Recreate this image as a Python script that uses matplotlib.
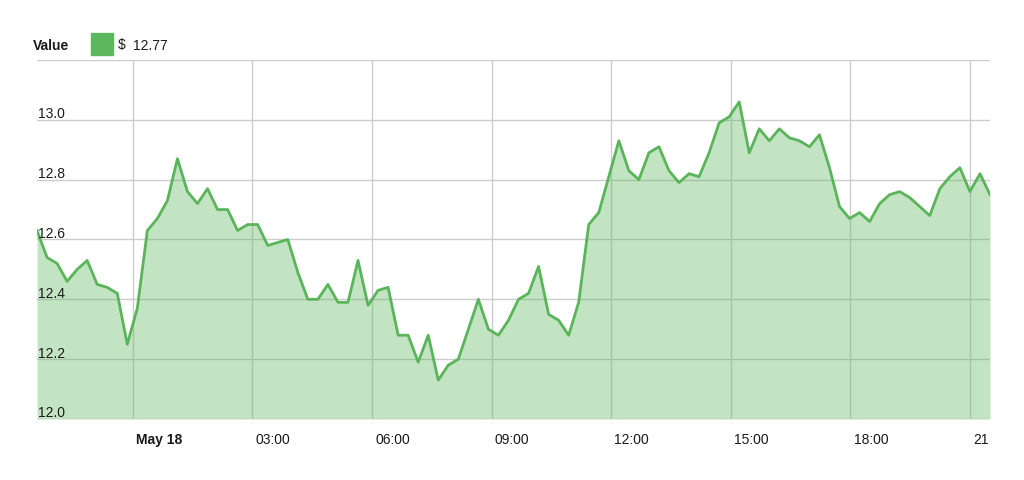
import numpy as np
import pandas as pd
import matplotlib
matplotlib.use("Agg")
import matplotlib.pyplot as plt
import matplotlib.dates as mdates

plt.rcParams['font.family'] = ['Liberation Sans', 'DejaVu Sans']

# price every ~15 minutes, May 17 21:36 -> May 18 21:30
values = [12.63, 12.54, 12.52, 12.46, 12.50, 12.53, 12.45, 12.44, 12.42, 12.25,
          12.37, 12.63, 12.67, 12.73, 12.87, 12.76, 12.72, 12.77, 12.70, 12.70,
          12.63, 12.65, 12.65, 12.58, 12.59, 12.60, 12.49, 12.40, 12.40, 12.45,
          12.39, 12.39, 12.53, 12.38, 12.43, 12.44, 12.28, 12.28, 12.19, 12.28,
          12.13, 12.18, 12.20, 12.30, 12.40, 12.30, 12.28, 12.33, 12.40, 12.42,
          12.51, 12.35, 12.33, 12.28, 12.39, 12.65, 12.69, 12.81, 12.93, 12.83,
          12.80, 12.89, 12.91, 12.83, 12.79, 12.82, 12.81, 12.89, 12.99, 13.01,
          13.06, 12.89, 12.97, 12.93, 12.97, 12.94, 12.93, 12.91, 12.95, 12.84,
          12.71, 12.67, 12.69, 12.66, 12.72, 12.75, 12.76, 12.74, 12.71, 12.68,
          12.77, 12.81, 12.84, 12.76, 12.82, 12.75]
start = "2018-05-17 21:36"
end = "2018-05-18 21:30"
times = pd.date_range(start, end, periods=len(values))

yticks = [12.0, 12.2, 12.4, 12.6, 12.8, 13.0, 13.2]
xticks = pd.date_range("2018-05-18 00:00", periods=8, freq="3h")
xlabels = ["May 18", "03:00", "06:00", "09:00", "12:00", "15:00", "18:00", "21"]
legend_label = "Value"
legend_currency = "$"
legend_value = "12.77"

green = "#5cb85c"
line_green = "#5ab55a"
grid_color = "#cccccc"
text_color = "#1a1a1a"

fig = plt.figure(figsize=(10.24, 4.81), dpi=100)
ax = fig.add_axes([37 / 1024, 1 - 420 / 481, 953 / 1024, 359 / 481])

ax.fill_between(times, values, 12.0, color=green, alpha=0.37, linewidth=0, zorder=2)
ax.plot(times, values, color=line_green, linewidth=2.0, zorder=3)

ax.set_xlim(times[0], times[-1])
ax.set_ylim(12.0, 13.2)
ax.set_yticks(yticks)
ax.set_xticks(xticks)
ax.set_xticklabels([])
ax.set_yticklabels([])
ax.tick_params(length=0)
ax.grid(True, color=grid_color, linewidth=1.0, zorder=1)
ax.set_axisbelow(True)
for s in ax.spines.values():
    s.set_visible(False)

# y labels sit inside the plot, just above their gridline
for v in yticks[:-1]:
    ax.annotate("%.1f" % v, xy=(0, v), xycoords=("axes fraction", "data"),
                xytext=(0.5, 1.8), textcoords="offset points",
                fontsize=10, color=text_color, va="baseline", ha="left", zorder=4)

# x labels start just right of their gridline
for t, lab in zip(xticks, xlabels):
    ax.annotate(lab, xy=(mdates.date2num(t), 0), xycoords=("data", "axes fraction"),
                xytext=(2.3, -14.5), textcoords="offset points",
                fontsize=10, color=text_color, ha="left", va="center",
                fontweight="bold" if lab == "May 18" else "normal")

# legend
fig.text(33 / 1024, 1 - 45.5 / 481, legend_label, fontsize=10, fontweight="bold",
         color=text_color, va="center", ha="left")
fig.patches.append(plt.Rectangle((91 / 1024, 1 - 56 / 481), 22 / 1024, 22 / 481,
                                 transform=fig.transFigure, color=green, figure=fig))
fig.text(118 / 1024, 1 - 45.5 / 481, legend_currency, fontsize=10,
         color=text_color, va="center", ha="left")
fig.text(133 / 1024, 1 - 45.5 / 481, legend_value, fontsize=10,
         color=text_color, va="center", ha="left")

fig.savefig("out.png", dpi=100)
